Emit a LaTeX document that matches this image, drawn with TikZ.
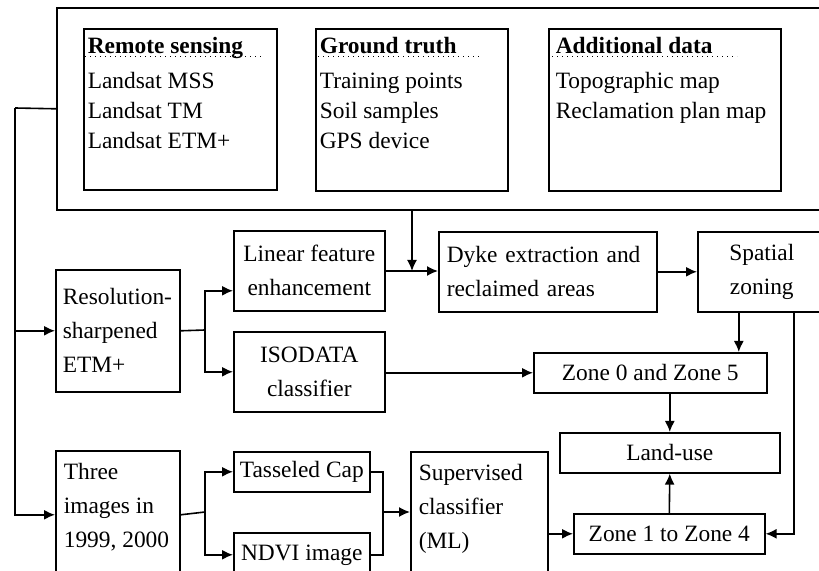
\documentclass[tikz,border=0pt]{standalone}
\usepackage{fontspec}
\setmainfont{Liberation Serif}
\usepackage{tikz}
\usetikzlibrary{positioning, arrows.meta, calc}
\newcommand{\topbox}[3]{\parbox[t][#2][t]{#1}{\raggedright #3}}

\begin{document}
\begin{tikzpicture}[
    x=0.5pt, y=-0.5pt,
    box/.style={
        rectangle, draw, line width=0.8pt, anchor=north west,
        inner sep=0pt, align=center,
        font=\fontsize{11.7}{17}\selectfont
    },
    listbox/.style={box, inner xsep=2pt, inner ysep=4pt,
        font=\fontsize{11.7}{15}\selectfont},
    flow/.style={-{Latex[length=5.5pt, width=5pt]}, line width=0.8pt},
    line/.style={line width=0.8pt},
    uline/.style={dotted, line width=0.5pt}
]
\clip (0,0) rectangle (819,571);

% === Input data (top) ===
\node[box, minimum width=387pt, minimum height=101pt] (data) at (56,7) {};

\node[listbox] (remote) at (83,28)
    {\topbox{92.5pt}{72.5pt}{\textbf{Remote sensing}\\[2.5pt]Landsat MSS\\Landsat TM\\Landsat ETM+}};
\node[listbox] (truth) at (315,28)
    {\topbox{92pt}{73pt}{\textbf{Ground truth}\\[2.5pt]Training points\\Soil samples\\GPS device}};
\node[listbox, inner xsep=3.5pt] (addl) at (548,28)
    {\topbox{109pt}{73pt}{\textbf{Additional data}\\[2.5pt]Topographic map\\Reclamation plan map}};

% dotted underlines of the headings
\draw[uline] ([shift={(2,29)}]remote.north west) -- ++(177,0);
\draw[uline] ([shift={(3,29)}]truth.north west) -- ++(161,0);
\draw[uline] ([shift={(4,29)}]addl.north west) -- ++(185,0);

% === Processing ===
\node[box, inner xsep=3.5pt, text width=55pt, align=left, minimum height=61pt] (sharp) at (55,269)
    {Resolution-\\sharpened\\ETM+};
\node[box, minimum width=75.5pt, minimum height=40pt] (linfeat) at (233,230)
    {Linear feature\\enhancement};
\node[box, minimum width=75.5pt, minimum height=40pt] (isodata) at (233,331)
    {ISODATA\\classifier};
\node[box, inner xsep=4pt, text width=101pt, align=left, minimum height=40pt] (dyke) at (438,231)
    {Dyke extraction and\\reclaimed areas};
\node[box, minimum width=64pt, minimum height=40pt] (zoning) at (697,231)
    {Spatial\\zoning};
\node[box, minimum width=116.5pt, minimum height=20pt] (zone05) at (533,352)
    {Zone 0 and Zone 5};
\node[box, minimum width=110pt, minimum height=20pt] (landuse) at (559,432)
    {Land-use};
\node[box, minimum width=95.5pt, minimum height=20pt] (zone14) at (573,513)
    {Zone 1 to Zone 4};

\node[box, inner xsep=4pt, inner ysep=6pt] (three) at (55,450)
    {\topbox{54pt}{50pt}{Three\\images in\\1999, 2000}};
\node[box, minimum width=68pt, minimum height=20pt] (tcap) at (233,451)
    {Tasseled Cap};
\node[box, minimum width=68pt, minimum height=22pt] (ndvi) at (233,532)
    {NDVI image};
\node[box, inner xsep=4pt, inner ysep=6pt] (superv) at (410,451)
    {\topbox{60.5pt}{50pt}{Supervised\\classifier\\(ML)}};

% === Connectors ===
\coordinate (trunk) at (15,108);
\coordinate (fork1) at (205,330);
\coordinate (fork2) at (205,512);
\coordinate (merge) at (383,512);
\coordinate (drop) at (412,271);

\draw[line] (data.west) -- (trunk);
\draw[flow] (trunk) |- (sharp.west);
\draw[flow] (trunk) |- ([yshift=-1pt]three.west);

\draw[line] (sharp.east) -- (fork1);
\draw[flow] (fork1) |- ([yshift=-10pt]linfeat.west);
\draw[flow] (fork1) |- (isodata.west);

\draw[line] ([yshift=-1pt]three.east) -- (fork2);
\draw[flow] (fork2) |- (tcap.west);
\draw[flow] (fork2) |- (ndvi.west);

\draw[line] (tcap.east) -| (merge) |- (ndvi.east);
\draw[flow] (merge) -- (merge -| superv.west);

\draw[line] (linfeat.east) -- (linfeat.east -| drop);
\draw[flow] (drop |- data.south) -- (drop);
\draw[flow] (drop) -- (drop -| dyke.west);
\draw[flow] (dyke.east) -- (dyke.east -| zoning.west);

\draw[flow] ([xshift=-11.5pt]zoning.south) -- ([xshift=-11.5pt]zoning.south |- zone05.north);
\draw[flow] ([xshift=16pt]zoning.south) |- (zone14.east);
\draw[flow] (isodata.east |- zone05.west) -- (zone05.west);
\draw[flow] (zone05.south -| landuse.north) -- (landuse.north);
\draw[flow] (zone14.north) -- (landuse.south);
\draw[flow] (zone14.west -| superv.east) -- (zone14.west);

\end{tikzpicture}
\end{document}
